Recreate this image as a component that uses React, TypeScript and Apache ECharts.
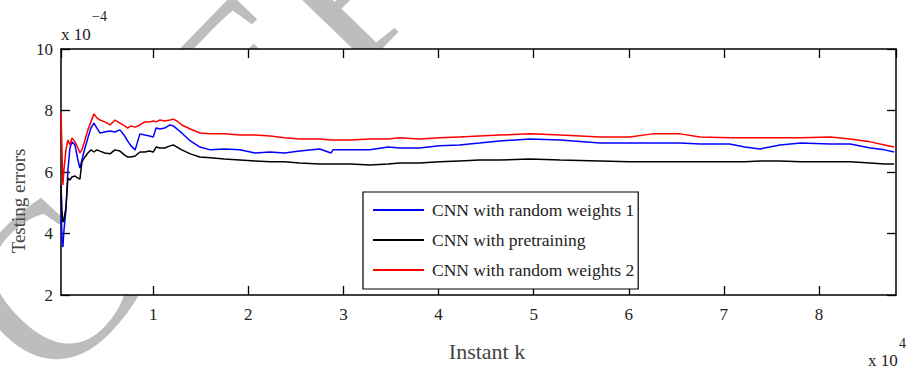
import React, { useEffect, useRef } from "react";
import * as echarts from "echarts";

// x in units of 1e4, y in units of 1e-4
const xs = [0.03, 0.04, 0.05, 0.061, 0.082, 0.103, 0.124, 0.145, 0.177, 0.208, 0.229, 0.25, 0.282, 0.313, 0.345, 0.376, 0.408, 0.44, 0.49, 0.545, 0.597, 0.65, 0.7, 0.73, 0.766, 0.81, 0.86, 0.91, 0.96, 1.0, 1.03, 1.07, 1.12, 1.176, 1.21, 1.25, 1.3, 1.39, 1.49, 1.6, 1.75, 1.91, 2.07, 2.23, 2.38, 2.54, 2.75, 2.87, 2.89, 3.07, 3.28, 3.47, 3.59, 3.8, 4.01, 4.22, 4.43, 4.64, 4.96, 5.28, 5.7, 6.01, 6.25, 6.54, 6.75, 7.06, 7.22, 7.38, 7.59, 7.81, 8.12, 8.33, 8.54, 8.69, 8.79];

const random1 = [5.25, 3.79, 3.56, 4.11, 4.76, 6.07, 6.78, 6.98, 6.88, 6.39, 6.13, 6.39, 6.78, 7.11, 7.43, 7.59, 7.43, 7.27, 7.3, 7.33, 7.3, 7.37, 7.17, 7.01, 6.85, 6.72, 7.24, 7.2, 7.17, 7.14, 7.43, 7.4, 7.43, 7.53, 7.5, 7.4, 7.27, 7.01, 6.81, 6.72, 6.75, 6.72, 6.62, 6.65, 6.62, 6.68, 6.75, 6.62, 6.72, 6.72, 6.72, 6.81, 6.78, 6.78, 6.85, 6.88, 6.94, 7.01, 7.07, 7.04, 6.94, 6.94, 6.94, 6.94, 6.91, 6.91, 6.81, 6.75, 6.88, 6.94, 6.91, 6.91, 6.78, 6.72, 6.65];

const pretraining = [5.58, 4.76, 4.37, 4.44, 4.86, 5.8, 5.74, 5.84, 5.87, 5.8, 5.77, 6.33, 6.49, 6.62, 6.72, 6.65, 6.72, 6.68, 6.62, 6.59, 6.72, 6.68, 6.55, 6.49, 6.49, 6.52, 6.65, 6.65, 6.68, 6.65, 6.81, 6.78, 6.78, 6.85, 6.88, 6.81, 6.72, 6.59, 6.49, 6.46, 6.42, 6.39, 6.36, 6.33, 6.33, 6.29, 6.26, 6.26, 6.26, 6.26, 6.23, 6.26, 6.29, 6.29, 6.33, 6.36, 6.39, 6.39, 6.42, 6.39, 6.36, 6.33, 6.33, 6.33, 6.33, 6.33, 6.33, 6.36, 6.36, 6.33, 6.33, 6.33, 6.29, 6.26, 6.26];

const random2 = [7.92, 6.72, 5.58, 6.07, 6.72, 7.04, 6.88, 7.11, 6.98, 6.78, 6.62, 6.72, 7.04, 7.37, 7.63, 7.89, 7.76, 7.69, 7.63, 7.53, 7.69, 7.59, 7.5, 7.43, 7.5, 7.46, 7.53, 7.63, 7.63, 7.66, 7.63, 7.69, 7.66, 7.69, 7.72, 7.66, 7.53, 7.4, 7.27, 7.24, 7.24, 7.2, 7.2, 7.17, 7.11, 7.07, 7.07, 7.04, 7.04, 7.04, 7.07, 7.07, 7.11, 7.07, 7.11, 7.14, 7.17, 7.2, 7.24, 7.2, 7.14, 7.14, 7.24, 7.24, 7.14, 7.11, 7.11, 7.11, 7.11, 7.11, 7.14, 7.07, 6.98, 6.88, 6.81];

const seriesNames = ["CNN with random weights 1", "CNN with pretraining", "CNN with random weights 2"];
const seriesColors = ["#0000ff", "#000000", "#ff0000"];
const seriesValues = [random1, pretraining, random2];

const xMin = 0.03;
const xMax = 8.81;
const yMin = 2;
const yMax = 10;
const yStep = 2;

const FONT = "Liberation Serif";

export default function App() {
  const ref = useRef<HTMLDivElement>(null);
  useEffect(() => {
    if (!ref.current) return;
    const chart = echarts.init(ref.current, null, { renderer: "svg" });
    const axisLine = { show: true, lineStyle: { color: "#000", width: 1.5 } };
    const tick = { show: true, inside: true, length: 9, lineStyle: { color: "#000", width: 1.3 } };
    const theta = (46 * Math.PI) / 180;
    chart.setOption({
      animation: false,
      backgroundColor: "#fff",
      grid: { left: 61, right: 10, top: 49, bottom: 78, show: true, backgroundColor: "#fff", borderWidth: 0 },
      legend: {
        left: 363,
        top: 192,
        orient: "vertical",
        data: seriesNames,
        icon: "rect",
        itemWidth: 51,
        itemHeight: 2,
        itemGap: 10,
        padding: [8, 4, 9, 10],
        backgroundColor: "#fff",
        borderColor: "#000",
        borderWidth: 1.2,
        textStyle: { fontFamily: FONT, fontSize: 17.5, color: "#222", lineHeight: 20, padding: [0, 0, 0, 3] },
      },
      xAxis: [
        {
          type: "value", min: xMin, max: xMax, splitNumber: 9,
          axisLine, axisTick: tick, splitLine: { show: false },
          axisLabel: {
            fontFamily: FONT, fontSize: 17, color: "#222", margin: 11,
            showMinLabel: false, showMaxLabel: false,
            formatter: (v: number) => (Math.abs(v - Math.round(v)) < 1e-6 ? String(Math.round(v)) : ""),
          },
        },
        {
          type: "value", min: xMin, max: xMax, splitNumber: 9, position: "top",
          axisLine, axisTick: tick, splitLine: { show: false }, axisLabel: { show: false },
        },
      ],
      yAxis: [
        {
          type: "value", min: yMin, max: yMax, interval: yStep,
          axisLine, axisTick: tick, splitLine: { show: false },
          axisLabel: { fontFamily: FONT, fontSize: 17, color: "#222", margin: 8 },
        },
        {
          type: "value", min: yMin, max: yMax, interval: yStep, position: "right",
          axisLine, axisTick: tick, splitLine: { show: false }, axisLabel: { show: false },
        },
      ],
      series: seriesNames.map((name, i) => ({
        name,
        type: "line",
        data: xs.map((x, j) => [x, seriesValues[i][j]]),
        showSymbol: false,
        symbol: "none",
        lineStyle: { color: seriesColors[i], width: 1.5 },
        itemStyle: { color: seriesColors[i] },
      })),
      graphic: [
        {
          type: "text",
          z: -10,
          x: -115,
          y: 455,
          rotation: theta,
          style: { text: "ACCEPTED MANUSCRIPT", fontFamily: FONT, fontSize: 222, fill: "#bdbdbd", align: "left", verticalAlign: "middle" },
        },
        {
          type: "text", x: 18, y: 201, rotation: Math.PI / 2,
          style: { text: "Testing errors", fontFamily: FONT, fontSize: 19, fill: "#444", align: "center", verticalAlign: "middle" },
        },
        {
          type: "text", x: 487, y: 351,
          style: { text: "Instant k", fontFamily: FONT, fontSize: 22, fill: "#444", align: "center", verticalAlign: "middle" },
        },
        {
          type: "text", x: 61, y: 34,
          style: { text: "x 10", fontFamily: FONT, fontSize: 17, fill: "#222", align: "left", verticalAlign: "middle" },
        },
        {
          type: "text", x: 92, y: 16,
          style: { text: "\u22124", fontFamily: FONT, fontSize: 14, fill: "#222", align: "left", verticalAlign: "middle" },
        },
        {
          type: "text", x: 868, y: 360,
          style: { text: "x 10", fontFamily: FONT, fontSize: 17, fill: "#222", align: "left", verticalAlign: "middle" },
        },
        {
          type: "text", x: 899, y: 343,
          style: { text: "4", fontFamily: FONT, fontSize: 14, fill: "#222", align: "left", verticalAlign: "middle" },
        },
      ],
    });
    return () => chart.dispose();
  }, []);
  return <div ref={ref} style={{ position: "fixed", left: 0, top: 0, width: 906, height: 373 }} />;
}
